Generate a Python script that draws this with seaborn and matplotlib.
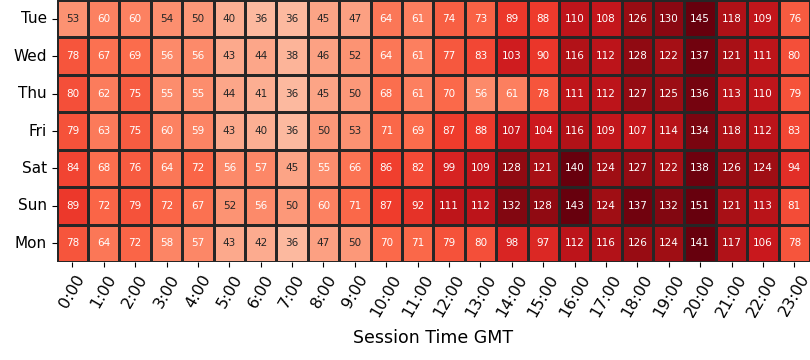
import numpy as np
import pandas as pd
import matplotlib
matplotlib.use("Agg")
import matplotlib.pyplot as plt
import seaborn as sns

days = ["Tue", "Wed", "Thu", "Fri", "Sat", "Sun", "Mon"]
hours = [f"{h}:00" for h in range(24)]

tue = [53, 60, 60, 54, 50, 40, 36, 36, 45, 47, 64, 61, 74, 73, 89, 88, 110, 108, 126, 130, 145, 118, 109, 76]
wed = [78, 67, 69, 56, 56, 43, 44, 38, 46, 52, 64, 61, 77, 83, 103, 90, 116, 112, 128, 122, 137, 121, 111, 80]
thu = [80, 62, 75, 55, 55, 44, 41, 36, 45, 50, 68, 61, 70, 56, 61, 78, 111, 112, 127, 125, 136, 113, 110, 79]
fri = [79, 63, 75, 60, 59, 43, 40, 36, 50, 53, 71, 69, 87, 88, 107, 104, 116, 109, 107, 114, 134, 118, 112, 83]
sat = [84, 68, 76, 64, 72, 56, 57, 45, 55, 66, 86, 82, 99, 109, 128, 121, 140, 124, 127, 122, 138, 126, 124, 94]
sun = [89, 72, 79, 72, 67, 52, 56, 50, 60, 71, 87, 92, 111, 112, 132, 128, 143, 124, 137, 132, 151, 121, 113, 81]
mon = [78, 64, 72, 58, 57, 43, 42, 36, 47, 50, 70, 71, 79, 80, 98, 97, 112, 116, 126, 124, 141, 117, 106, 78]

df = pd.DataFrame([tue, wed, thu, fri, sat, sun, mon], index=days, columns=hours)

fig, ax = plt.subplots(figsize=(8.1, 3.6), dpi=100)
sns.heatmap(df, cmap="Reds", vmin=0, vmax=140, annot=True, fmt="d", cbar=False,
            linewidths=1, linecolor="#262626", annot_kws={"fontsize": 7.5}, ax=ax)
ax.set_xlabel("Session Time GMT", fontsize=12.5, labelpad=7)
ax.set_ylabel("")
ax.tick_params(axis="x", labelsize=11.5, labelrotation=60)
ax.tick_params(axis="y", labelsize=11, labelrotation=0)
fig.subplots_adjust(left=0.07, right=1.0, top=1.0, bottom=0.272)
fig.savefig("out.png")
